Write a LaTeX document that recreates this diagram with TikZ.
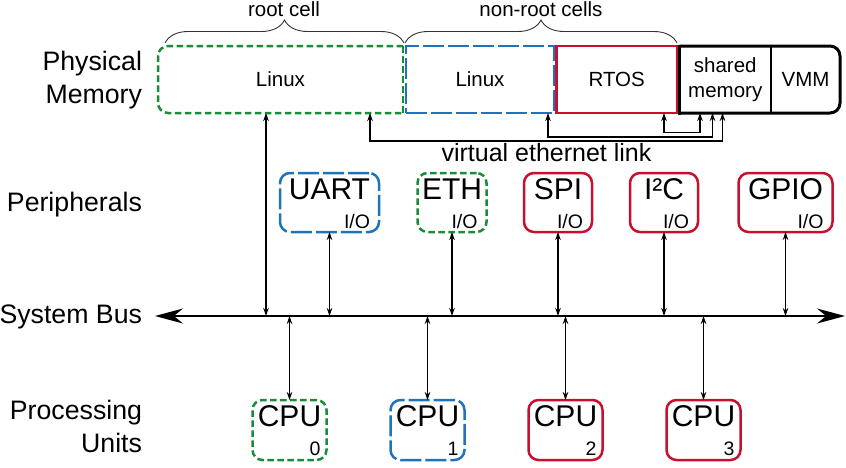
\documentclass[tikz,border=0pt]{standalone}
\usepackage{fontspec}
\setmainfont{Liberation Sans}
\usetikzlibrary{positioning,arrows.meta,decorations.pathreplacing}

\definecolor{cellgreen}{RGB}{25,140,55}
\definecolor{cellblue}{RGB}{30,115,185}
\definecolor{cellred}{RGB}{200,16,46}

\tikzset{
  every node/.style={inner sep=0pt, outer sep=0pt},
  rowlabel/.style={font=\fontsize{26.7}{33}\selectfont, align=right},
  memtext/.style={font=\fontsize{20.5}{25}\selectfont, align=center},
  memcell/.style={minimum height=67pt, line width=2.5pt},
  rootcell/.style={draw=cellgreen, dash pattern=on 6.5pt off 3.5pt},
  linuxcell/.style={draw=cellblue, dash pattern=on 21pt off 4pt},
  rtoscell/.style={draw=cellred},
  devbox/.style={line width=2.5pt, rounded corners=10pt, minimum height=59pt},
  cpubox/.style={line width=2.5pt, rounded corners=10pt, minimum width=74pt, minimum height=60pt},
  devtitle/.style={font=\fontsize{30}{30}\selectfont, anchor=base},
  devsub/.style={font=\fontsize{19.5}{20}\selectfont, anchor=base east},
  io/.style={line width=1.2pt, {Stealth[length=8pt,width=5.5pt]}-{Stealth[length=8pt,width=5.5pt]}},
  busline/.style={line width=2pt, {Stealth[length=28pt,width=15pt]}-{Stealth[length=28pt,width=15pt]}},
  cellbrace/.style={decorate, decoration={brace, amplitude=23pt}, line width=0.9pt, draw=black!80},
}

\begin{document}
\begin{tikzpicture}[x=1pt, y=-1pt]
    \useasboundingbox (0,0) rectangle (846,467);

    % row labels
    \node[rowlabel, anchor=east] (memlabel) at (142,79.6) {Physical\\Memory};
    \node[rowlabel, anchor=base east] (perlabel) at (142,211) {Peripherals};
    \node[rowlabel, anchor=base east] (buslabel) at (142,323) {System Bus};
    \node[rowlabel, anchor=east] (cpulabel) at (142,426.7) {Processing\\Units};

    % physical memory
    \node[memcell, memtext, minimum width=245pt] (memroot) at (280.5,79.5) {Linux};
    \node[memcell, memtext, linuxcell, minimum width=148pt, right=3pt of memroot] (memlin) {Linux};
    \node[memcell, memtext, rtoscell, minimum width=120.5pt, right=2.5pt of memlin] (memrtos) {RTOS};
    \node[memcell, memtext, minimum width=91.5pt, right=2.5pt of memrtos] (memshm) {shared\\memory};
    \node[memcell, memtext, minimum width=69pt, right=0pt of memshm] (memvmm) {VMM};
    \draw[rootcell, line width=2.5pt, rounded corners=10pt] (memroot.north east) -- (memroot.north west) -- (memroot.south west) -- (memroot.south east);
    \draw[rootcell, line width=2.5pt] (memroot.north east) -- (memroot.south east);
    \draw[line width=3pt, rounded corners=10pt] (memshm.north west) -- (memvmm.north east) -- (memvmm.south east) -- (memshm.south west);
    \draw[line width=3pt, line cap=rect] (memshm.north west) -- (memshm.south west);
    \draw[line width=2pt] (memshm.north east) -- (memshm.south east);

    % cells
    \draw[cellbrace] ([xshift=7pt,yshift=3pt]memroot.north west) -- ([xshift=1pt,yshift=3pt]memroot.north east);
    \draw[cellbrace] ([xshift=-1pt,yshift=3pt]memlin.north west) -- ([yshift=3pt]memrtos.north east);
    \node[memtext, anchor=base] (rootname) at (284,16.5) {root cell};
    \node[memtext, anchor=base] (nonrootname) at (541,16.5) {non-root cells};

    % virtual ethernet link
    \coordinate (vroot) at ([xshift=-33pt]memroot.south east);
    \coordinate (vlin) at ([xshift=-6pt]memlin.south east);
    \coordinate (vrtos) at ([xshift=-13pt]memrtos.south east);
    \coordinate (vshmA) at ([xshift=20.5pt]memshm.south west);
    \coordinate (vshmB) at ([xshift=33pt]memshm.south west);
    \coordinate (vshmC) at ([xshift=43pt]memshm.south west);
    \draw[io] (vroot) -- ++(0,28) -| (vshmC);
    \draw[io] (vlin) -- ++(0,24) -| (vshmB);
    \draw[io] (vrtos) -- ++(0,19.5) -| (vshmA);
    \node[font=\fontsize{25}{25}\selectfont, anchor=base] (veth) at (546.5,161.5) {virtual ethernet link};

    % peripherals
    \node[devbox, linuxcell, minimum width=99pt] (uart) at (329.5,202.5) {};
    \node[devbox, rootcell, minimum width=69pt] (eth) at (452,202.5) {};
    \node[devbox, rtoscell, minimum width=68pt] (spi) at (558,202.5) {};
    \node[devbox, rtoscell, minimum width=68pt] (iic) at (664,202.5) {};
    \node[devbox, rtoscell, minimum width=94pt] (gpio) at (785.5,202.5) {};
    \node[devtitle] (uartname) at ([yshift=-26pt]uart.north) {UART};
    \node[devtitle] (ethname) at ([yshift=-26pt]eth.north) {ETH};
    \node[devtitle] (spiname) at ([yshift=-26pt]spi.north) {SPI};
    \node[devtitle] (iicname) at ([yshift=-26pt]iic.north) {I²C};
    \node[devtitle] (gpioname) at ([yshift=-26pt]gpio.north) {GPIO};
    \node[devsub] (uartio) at ([xshift=-9pt,yshift=4pt]uart.south east) {I/O};
    \node[devsub] (ethio) at ([xshift=-9pt,yshift=4pt]eth.south east) {I/O};
    \node[devsub] (spiio) at ([xshift=-9pt,yshift=4pt]spi.south east) {I/O};
    \node[devsub] (iicio) at ([xshift=-9pt,yshift=4pt]iic.south east) {I/O};
    \node[devsub] (gpioio) at ([xshift=-9pt,yshift=4pt]gpio.south east) {I/O};

    % system bus
    \coordinate (busW) at (155,316);
    \coordinate (busE) at (845,316);
    \draw[busline] (busW) -- (busE);

    % processing units
    \node[cpubox, rootcell] (cpu0) at (289.5,430) {};
    \node[cpubox, linuxcell] (cpu1) at (427.5,430) {};
    \node[cpubox, rtoscell] (cpu2) at (565.5,430) {};
    \node[cpubox, rtoscell] (cpu3) at (703.5,430) {};
    \node[devtitle] (cpu0name) at ([yshift=-26pt]cpu0.north) {CPU};
    \node[devtitle] (cpu1name) at ([yshift=-26pt]cpu1.north) {CPU};
    \node[devtitle] (cpu2name) at ([yshift=-26pt]cpu2.north) {CPU};
    \node[devtitle] (cpu3name) at ([yshift=-26pt]cpu3.north) {CPU};
    \node[devsub] (cpu0num) at ([xshift=-6pt,yshift=5pt]cpu0.south east) {0};
    \node[devsub] (cpu1num) at ([xshift=-6pt,yshift=5pt]cpu1.south east) {1};
    \node[devsub] (cpu2num) at ([xshift=-6pt,yshift=5pt]cpu2.south east) {2};
    \node[devsub] (cpu3num) at ([xshift=-6pt,yshift=5pt]cpu3.south east) {3};

    % bus connections
    \coordinate (memtap) at ([xshift=108pt]memroot.south west);
    \draw[io] (memtap) -- (memtap |- busW);
    \draw[io] (uart.south) -- (uart.south |- busW);
    \draw[io] (eth.south) -- (eth.south |- busW);
    \draw[io] (spi.south) -- (spi.south |- busW);
    \draw[io] (iic.south) -- (iic.south |- busW);
    \draw[io] (gpio.south) -- (gpio.south |- busW);
    \draw[io] (cpu0.north |- busW) -- (cpu0.north);
    \draw[io] (cpu1.north |- busW) -- (cpu1.north);
    \draw[io] (cpu2.north |- busW) -- (cpu2.north);
    \draw[io] (cpu3.north |- busW) -- (cpu3.north);
\end{tikzpicture}
\end{document}
